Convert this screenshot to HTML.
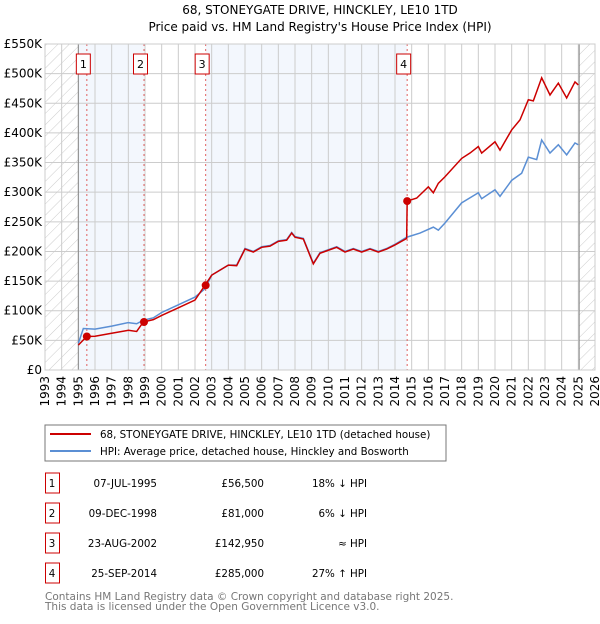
<!DOCTYPE html>
<html><head><meta charset="utf-8"><style>
body{margin:0;background:#fff;font-family:"DejaVu Sans","Liberation Sans",sans-serif;}
svg text{font-family:"DejaVu Sans","Liberation Sans",sans-serif;}
</style></head><body>
<svg id="chart" width="600" height="620" xmlns="http://www.w3.org/2000/svg">
<text x="320" y="14" text-anchor="middle" font-size="12">68, STONEYGATE DRIVE, HINCKLEY, LE10 1TD</text>
<text x="320" y="31" text-anchor="middle" font-size="12">Price paid vs. HM Land Registry's House Price Index (HPI)</text>
<defs><pattern id="hatch" width="8" height="8" patternUnits="userSpaceOnUse" patternTransform="rotate(45)"><line x1="0" y1="0" x2="0" y2="8" stroke="#ccc" stroke-width="1"/></pattern></defs>
<g id="bg"></g><g id="grid"></g><g id="marks"></g><g id="axes"></g>
<rect x="45" y="425" width="401" height="36" fill="#fff" stroke="#777"/>
<line x1="50" y1="434" x2="91" y2="434" stroke="#cc0000" stroke-width="2"/>
<text x="100" y="438" font-size="10.3">68, STONEYGATE DRIVE, HINCKLEY, LE10 1TD (detached house)</text>
<line x1="50" y1="451" x2="91" y2="451" stroke="#5b8fd4" stroke-width="2"/>
<text x="100" y="455" font-size="10.3">HPI: Average price, detached house, Hinckley and Bosworth</text>
<g id="table" font-size="10.3"></g>
<text x="45" y="600" font-size="10.5" fill="#777">Contains HM Land Registry data © Crown copyright and database right 2025.</text>
<text x="45" y="610" font-size="10.5" fill="#777">This data is licensed under the Open Government Licence v3.0.</text>
</svg>
<script>
const hpiYears=[1995.0,1995.3,1996,1997,1998,1998.5,1998.9,1999.5,2000,2001,2002,2002.6,2003,2004,2004.5,2005,2005.5,2006,2006.5,2007,2007.5,2007.8,2008,2008.5,2009.1,2009.5,2010,2010.5,2011,2011.5,2012,2012.5,2013,2013.5,2014,2014.7,2015.5,2016.3,2016.6,2017,2018,2019,2019.2,2020,2020.3,2021,2021.6,2022,2022.5,2022.8,2023.3,2023.8,2024.3,2024.8,2025];
const hpiValues=[45,70,69,74,80,78,84,88,97,110,123,137,160,177,177,205,200,208,210,218,220,232,225,222,180,198,203,208,200,205,200,205,200,205,212,224,231,241,236,248,282,299,289,304,293,320,332,359,355,388,366,380,363,383,380];
const redYears=[1995.0,1995.5,1996,1997,1998,1998.5,1998.9,1999.5,2000,2001,2002,2002.6,2003,2004,2004.5,2005,2005.5,2006,2006.5,2007,2007.5,2007.8,2008,2008.5,2009.1,2009.5,2010,2010.5,2011,2011.5,2012,2012.5,2013,2013.5,2014,2014.7,2014.73,2015.3,2016,2016.3,2016.6,2017,2018,2018.5,2019,2019.2,2020,2020.3,2021,2021.5,2022,2022.3,2022.8,2023.3,2023.8,2024.3,2024.8,2025];
const redValues=[42,56.5,57,62,67,65,81,85,92,105,118,143,160,177,176,204,199,207,209,217,219,231,224,221,179,197,202,207,199,204,199,204,199,204,211,222,285,290,309,299,315,326,357,366,377,366,385,371,405,422,456,454,493,464,484,459,486,481];
const saleYears=[1995.51,1998.94,2002.64,2014.73];
const saleValues=[56.5,81,142.95,285];
const saleLabels=["1","2","3","4"];
const saleDates=["07-JUL-1995","09-DEC-1998","23-AUG-2002","25-SEP-2014"];
const salePrices=["£56,500","£81,000","£142,950","£285,000"];
const saleHpi=["18% ↓ HPI","6% ↓ HPI","≈ HPI","27% ↑ HPI"];
const yTicks=[0,50,100,150,200,250,300,350,400,450,500,550];
const yTickLabels=["£0","£50K","£100K","£150K","£200K","£250K","£300K","£350K","£400K","£450K","£500K","£550K"];
const xTicks=[1993,1994,1995,1996,1997,1998,1999,2000,2001,2002,2003,2004,2005,2006,2007,2008,2009,2010,2011,2012,2013,2014,2015,2016,2017,2018,2019,2020,2021,2022,2023,2024,2025,2026];
const L=45,R=595,T=44,B=370;
const X=y=>L+(y-1993)*(R-L)/33;
const Y=v=>B-v*(B-T)/550;
const NS="http://www.w3.org/2000/svg";
function mk(parent,tag,attrs){const e=document.createElementNS(NS,tag);for(const k in attrs)e.setAttribute(k,attrs[k]);document.getElementById(parent).appendChild(e);return e;}
let e;
e=mk('bg','rect',{x:X(1993),y:T,width:X(1995)-X(1993),height:B-T,fill:'url(#hatch)'});


e=mk('bg','rect',{x:X(2025.05),y:T,width:R-X(2025.05),height:B-T,fill:'url(#hatch)'});


e=mk('bg','rect',{x:X(1995),y:T,width:X(saleYears[1])-X(1995),height:B-T,fill:'#eef3fc',opacity:0.7});


e=mk('bg','rect',{x:X(saleYears[2]),y:T,width:X(saleYears[3])-X(saleYears[2]),height:B-T,fill:'#eef3fc',opacity:0.7});


xTicks.forEach((t,i)=>{
 e=mk('grid','line',{x1:X(t),x2:X(t),y1:T,y2:B,stroke:'#ccc','stroke-width':1});
 
 
 e=mk('axes','text',{transform:`translate(${X(t)+4},${B+6}) rotate(-90)`,'text-anchor':'end','font-size':12});
 e.textContent=t;
 
 
});
yTicks.forEach((t,i)=>{
 e=mk('grid','line',{x1:L,x2:R,y1:Y(t),y2:Y(t),stroke:'#ccc','stroke-width':1});
 
 
 e=mk('axes','text',{x:L-3,y:Y(t)+4,'text-anchor':'end','font-size':12});
 e.textContent=yTickLabels[i];
 
 
});
e=mk('grid','line',{x1:X(1995),x2:X(1995),y1:T,y2:B,stroke:'#888'});


e=mk('grid','line',{x1:X(2025.05),x2:X(2025.05),y1:T,y2:B,stroke:'#888'});


saleYears.forEach((s,i)=>{
 e=mk('marks','line',{x1:X(s),x2:X(s),y1:T,y2:B,stroke:'#e06060','stroke-dasharray':'2,3','stroke-width':1});
 
 
 e=mk('marks','rect',{x:X(s)-10.5,y:54,width:14,height:20,fill:'#fff',stroke:'#cc0000'});
 
 
 e=mk('marks','text',{x:X(s)-3.5,y:68,'text-anchor':'middle','font-size':11});
 e.textContent=saleLabels[i];
 
 
});
e=mk('marks','polyline',{points:hpiYears.map((y,i)=>X(y)+','+Y(hpiValues[i])).join(' '),fill:'none',stroke:'#5b8fd4','stroke-width':1.5});


e=mk('marks','polyline',{points:redYears.map((y,i)=>X(y)+','+Y(redValues[i])).join(' '),fill:'none',stroke:'#cc0000','stroke-width':1.5});


saleYears.forEach((s,i)=>{
 e=mk('marks','circle',{cx:X(s),cy:Y(saleValues[i]),r:4,fill:'#cc0000'});
 
 
});
mk('axes','rect',{x:L,y:T,width:R-L,height:B-T,fill:'none',stroke:'#ccc'});
saleLabels.forEach((l,i)=>{
 const cy=483+i*30;
 e=mk('table','rect',{x:45.5,y:cy-10,width:14,height:20,fill:'#fff',stroke:'#cc0000'});
 
 
 e=mk('table','text',{x:52,y:cy+4,'text-anchor':'middle'});e.textContent=l;
 
 
 e=mk('table','text',{x:157,y:cy+4,'text-anchor':'end'});e.textContent=saleDates[i];
 
 
 e=mk('table','text',{x:264,y:cy+4,'text-anchor':'end'});e.textContent=salePrices[i];
 
 
 e=mk('table','text',{x:367,y:cy+4,'text-anchor':'end'});e.textContent=saleHpi[i];
 
 
});
</script>
</body></html>
